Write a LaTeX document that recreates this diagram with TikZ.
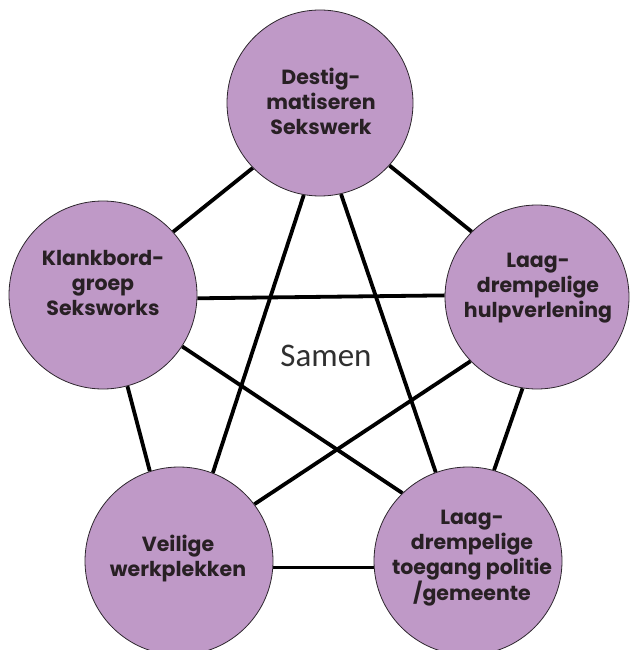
\documentclass[tikz,border=0pt]{standalone}
\usepackage{fontspec}
\newfontfamily\labfont{Poppins}
\newfontfamily\samenfont{Carlito}
\definecolor{bubble}{RGB}{191,153,199}
\definecolor{bubbleline}{RGB}{45,38,45}
\definecolor{labtext}{RGB}{40,32,36}
\definecolor{samentext}{RGB}{48,48,48}
\pgfdeclarelayer{background}
\pgfsetlayers{background,main}
\tikzset{
  bubblenode/.style={circle, fill=bubble, draw=bubbleline, line width=0.8pt, inner sep=0pt, minimum size=#1},
  labnode/.style={align=center, text=labtext, inner sep=0pt, font={\labfont\bfseries\fontsize{20.5}{25}\selectfont}},
  link/.style={line width=3.8pt, black}
}
\begin{document}
\begin{tikzpicture}[x=1pt,y=-1pt]
\useasboundingbox (0,0) rectangle (633,650);
\node[bubblenode=186pt] (T) at (320,103) {};
\node[bubblenode=188pt] (L) at (103,295) {};
\node[bubblenode=184pt] (R) at (537,297) {};
\node[bubblenode=188pt] (BL) at (179,561) {};
\node[bubblenode=188pt] (BR) at (468,561) {};
\node[labnode] (tT) at (321,101) {Destig-\\matiseren\\Sekswerk};
\node[labnode] (tL) at (103,283) {Klankbord-\\groep\\Seksworks};
\node[labnode] (tR) at (538,288) {Laag-\\drempelige\\hulpverlening};
\node[labnode] (tBL) at (178,559) {Veilige\\werkplekken};
\node[labnode] (tBR) at (472,558) {Laag-\\drempelige\\toegang politie\\/gemeente};
\node[text=samentext, inner sep=0pt, font={\samenfont\fontsize{33}{36}\selectfont}] (samen) at (326,356) {Samen};
\begin{pgfonlayer}{background}
\draw[link] (T.224) -- (L.42);
\draw[link] (T.318) -- (R.135);
\draw[link] (T.260) -- (BL.69);
\draw[link] (T.283) -- (BR.110);
\draw[link] (L.358) -- (R.179);
\draw[link] (L.285) -- (BL.108);
\draw[link] (L.327) -- (BR.134);
\draw[link] (R.224) -- (BL.37);
\draw[link] (R.261) -- (BR.74);
\draw[link] (BL.356) -- (BR.184);
\end{pgfonlayer}
\end{tikzpicture}
\end{document}
